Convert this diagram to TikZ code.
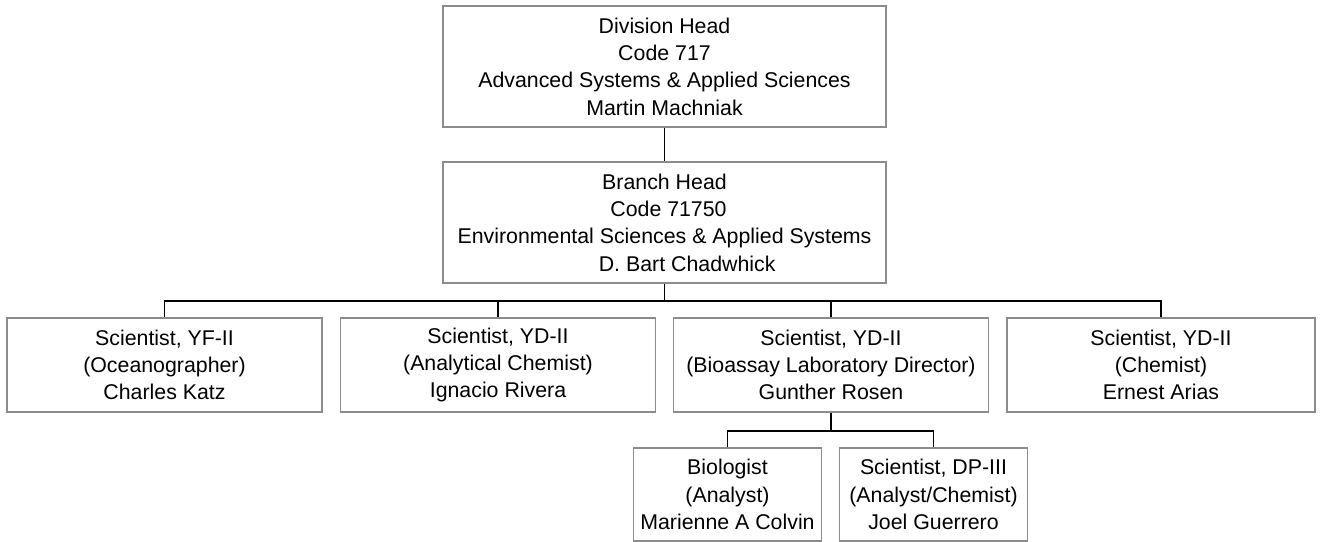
\documentclass[tikz,border=0pt]{standalone}
\usepackage{fontspec}
\setmainfont{Liberation Sans}
\begin{document}
\begin{tikzpicture}[x=0.75pt,y=-0.75pt,
	box/.style={draw=black!45,line width=0.9pt,align=center,inner sep=0pt,
		font=\fontsize{16}{20.5}\selectfont},
	headbox/.style={box,minimum width=332.25pt,minimum height=90.75pt},
	staffbox/.style={box,minimum width=236.25pt,minimum height=70.5pt},
	subbox/.style={box,minimum width=141pt,minimum height=69.75pt},
	link/.style={black,line width=0.8pt}]
	
	\useasboundingbox (0,0) rectangle (1322,542);
	
	\node[headbox] (division) at (664.5,66.5) {Division Head\\Code 717\\Advanced Systems \& Applied Sciences\\Martin Machniak};
	\node[headbox] (branch) at (664.5,222.5) {Branch Head\\\hspace*{6pt}Code 71750\\Environmental Sciences \& Applied Systems\hspace*{10pt}\\\hspace*{34pt}D. Bart Chadwhick};
	
	\node[staffbox] (katz) at (164.5,365) {Scientist, YF-II\\(Oceanographer)\\Charles Katz};
	\node[staffbox] (rivera) at (498,365) {Scientist, YD-II\\(Analytical Chemist)\\Ignacio Rivera};
	\node[staffbox] (rosen) at (831,365) {Scientist, YD-II\\(Bioassay Laboratory Director)\\Gunther Rosen};
	\node[staffbox,minimum width=231pt] (arias) at (1161,365) {Scientist, YD-II\\(Chemist)\\Ernest Arias};
	
	\node[subbox] (colvin) at (727.5,494.5) {Biologist\\(Analyst)\\Marienne A Colvin};
	\node[subbox] (guerrero) at (933.5,494.5) {Scientist, DP-III\\(Analyst/Chemist)\\Joel Guerrero};
	
	\coordinate (staffbar) at (664.5,301);
	\coordinate (subbar) at (831,431);
	
	\draw[link] (division) -- (branch);
	\draw[link] (branch) -- (staffbar);
	\draw[link] (katz.north) |- (staffbar) -| (arias.north);
	\draw[link] (rivera.north) -- (rivera.north |- staffbar);
	\draw[link] (rosen.north) -- (rosen.north |- staffbar);
	
	\draw[link] (rosen) -- (subbar);
	\draw[link] (colvin.north) |- (subbar) -| (guerrero.north);
\end{tikzpicture}
\end{document}
